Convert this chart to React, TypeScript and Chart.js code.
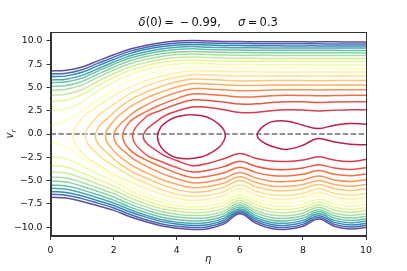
import React, { useEffect, useRef } from "react";
import { Chart, registerables } from "chart.js";

Chart.register(...registerables);

// ---------- data ----------
const ETA = [0, 0.5, 1, 1.5, 2, 2.5, 3, 3.5, 4, 4.5, 5, 5.5, 6, 6.5, 7, 7.5, 8, 8.5, 9, 9.5, 10];
const X_TICKS = [0, 2, 4, 6, 8, 10];
const Y_TICKS = [-10, -7.5, -5, -2.5, 0, 2.5, 5, 7.5, 10];
const N_LEVELS = 20;

const _ = null;
// upper branch of every contour level (level 0 = innermost, 19 = outermost)
const TOP: (number | null)[][] = [
  [_, _, _, _, _, _, _, _, _, _, _, _, _, _, _, _, _, _, _, _, _],
  [_, _, _, _, _, _, _, 1.7, 2.45, 2.91, 2.85, 2.6, 2.3, 2.32, 2.5, 2.6, 2.58, 2.48, 2.55, 2.6, 2.6],
  [_, _, _, _, _, _, 1.75, 2.55, 3.2, 3.64, 3.6, 3.42, 3.22, 3.24, 3.38, 3.46, 3.45, 3.39, 3.44, 3.47, 3.47],
  [_, _, _, _, _, 1.25, 2.35, 3.15, 3.8, 4.29, 4.25, 4.12, 3.97, 3.99, 4.1, 4.15, 4.14, 4.1, 4.13, 4.15, 4.15],
  [_, _, _, _, _, 1.95, 3.05, 3.85, 4.45, 4.87, 4.84, 4.74, 4.64, 4.66, 4.73, 4.76, 4.76, 4.73, 4.75, 4.76, 4.76],
  [_, _, _, _, 1.4, 2.85, 3.8, 4.5, 5.05, 5.41, 5.37, 5.29, 5.21, 5.22, 5.26, 5.27, 5.27, 5.26, 5.27, 5.27, 5.27],
  [_, _, _, _, 2.3, 3.6, 4.45, 5.1, 5.6, 5.9, 5.85, 5.78, 5.7, 5.71, 5.73, 5.73, 5.73, 5.72, 5.73, 5.73, 5.73],
  [_, _, _, 1.9, 3.15, 4.3, 5.1, 5.7, 6.1, 6.36, 6.33, 6.28, 6.23, 6.22, 6.23, 6.23, 6.23, 6.23, 6.23, 6.23, 6.23],
  [_, _, 1.7, 3.0, 4.1, 5.0, 5.7, 6.2, 6.58, 6.79, 6.76, 6.72, 6.68, 6.67, 6.66, 6.66, 6.66, 6.66, 6.66, 6.66, 6.66],
  [0.9, 1.45, 2.45, 3.7, 4.75, 5.7, 6.35, 6.8, 7.08, 7.2, 7.17, 7.14, 7.12, 7.1, 7.09, 7.08, 7.08, 7.07, 7.07, 7.06, 7.06],
  [2.5, 2.7, 3.45, 4.6, 5.58, 6.35, 6.9, 7.3, 7.52, 7.6, 7.54, 7.49, 7.46, 7.45, 7.44, 7.43, 7.43, 7.43, 7.42, 7.42, 7.42],
  [3.5, 3.64, 4.22, 5.19, 6.07, 6.83, 7.32, 7.68, 7.89, 7.95, 7.89, 7.84, 7.82, 7.81, 7.8, 7.8, 7.79, 7.79, 7.78, 7.78, 7.77],
  [4.15, 4.27, 4.77, 5.65, 6.47, 7.18, 7.66, 7.99, 8.2, 8.26, 8.2, 8.15, 8.13, 8.12, 8.11, 8.11, 8.1, 8.1, 8.1, 8.1, 8.1],
  [4.7, 4.81, 5.27, 6.08, 6.86, 7.54, 7.99, 8.32, 8.53, 8.58, 8.53, 8.48, 8.46, 8.45, 8.44, 8.43, 8.43, 8.43, 8.42, 8.42, 8.42],
  [5.1, 5.2, 5.64, 6.42, 7.17, 7.84, 8.29, 8.61, 8.81, 8.87, 8.81, 8.77, 8.75, 8.73, 8.72, 8.72, 8.71, 8.71, 8.71, 8.71, 8.7],
  [5.5, 5.6, 6.0, 6.75, 7.48, 8.13, 8.57, 8.89, 9.08, 9.14, 9.08, 9.04, 9.01, 9.0, 8.99, 8.98, 8.98, 8.98, 8.98, 8.97, 8.97],
  [5.8, 5.89, 6.29, 7.01, 7.73, 8.38, 8.81, 9.13, 9.32, 9.38, 9.32, 9.28, 9.26, 9.25, 9.24, 9.23, 9.23, 9.23, 9.22, 9.22, 9.22],
  [6.16, 6.24, 6.62, 7.31, 8.0, 8.63, 9.06, 9.36, 9.55, 9.6, 9.55, 9.51, 9.49, 9.48, 9.47, 9.46, 9.46, 9.46, 9.45, 9.45, 9.45],
  [6.45, 6.53, 6.9, 7.58, 8.25, 8.87, 9.28, 9.58, 9.77, 9.82, 9.77, 9.73, 9.71, 9.7, 9.69, 9.68, 9.68, 9.68, 9.67, 9.67, 9.67],
  [6.77, 6.85, 7.2, 7.85, 8.5, 9.1, 9.5, 9.8, 9.98, 10.03, 9.98, 9.94, 9.92, 9.91, 9.9, 9.9, 9.89, 9.89, 9.89, 9.88, 9.88],
];

// lower branch of every contour level
const BOT: (number | null)[][] = [
  [_, _, _, _, _, _, _, _, _, _, _, _, _, _, _, _, _, _, _, _, _],
  [_, _, _, _, _, _, _, -2.1, -2.85, -3.4, -3.13, -2.65, -2.1, -2.61, -2.91, -2.95, -2.8, -2.45, -2.8, -2.94, -2.75],
  [_, _, _, _, _, _, -2.15, -2.95, -3.6, -4.08, -3.9, -3.5, -2.92, -3.46, -3.78, -3.82, -3.66, -3.29, -3.66, -3.8, -3.62],
  [_, _, _, _, _, -1.65, -2.75, -3.5, -4.2, -4.68, -4.54, -4.17, -3.56, -4.12, -4.45, -4.5, -4.33, -3.93, -4.33, -4.48, -4.3],
  [_, _, _, _, _, -2.35, -3.4, -4.2, -4.8, -5.24, -5.13, -4.76, -4.12, -4.71, -5.06, -5.11, -4.93, -4.51, -4.93, -5.09, -4.91],
  [_, _, _, _, -1.8, -3.2, -4.1, -4.85, -5.4, -5.76, -5.64, -5.26, -4.59, -5.21, -5.57, -5.62, -5.43, -4.99, -5.43, -5.6, -5.42],
  [_, _, _, _, -2.65, -3.85, -4.7, -5.4, -5.95, -6.24, -6.11, -5.7, -5.0, -5.65, -6.03, -6.08, -5.88, -5.41, -5.88, -6.06, -5.88],
  [_, _, _, -2.2, -3.4, -4.45, -5.25, -5.95, -6.45, -6.7, -6.58, -6.19, -5.46, -6.13, -6.52, -6.58, -6.37, -5.88, -6.37, -6.56, -6.38],
  [_, _, -2.0, -3.3, -4.3, -5.1, -5.8, -6.45, -6.9, -7.13, -7.01, -6.6, -5.84, -6.54, -6.95, -7.01, -6.79, -6.28, -6.79, -6.99, -6.81],
  [-0.9, -1.36, -2.59, -3.63, -4.56, -5.59, -6.39, -7.0, -7.36, -7.53, -7.41, -6.99, -6.2, -6.93, -7.35, -7.41, -7.18, -6.65, -7.18, -7.39, -7.21],
  [-2.45, -2.65, -3.44, -4.28, -5.07, -6.02, -6.75, -7.33, -7.67, -7.83, -7.74, -7.33, -6.51, -7.27, -7.71, -7.77, -7.53, -6.97, -7.53, -7.75, -7.57],
  [-3.4, -3.55, -4.17, -4.88, -5.58, -6.44, -7.13, -7.67, -7.99, -8.14, -8.06, -7.66, -6.82, -7.6, -8.06, -8.12, -7.87, -7.29, -7.87, -8.1, -7.92],
  [-4.08, -4.2, -4.73, -5.37, -6.01, -6.82, -7.47, -7.99, -8.3, -8.44, -8.38, -7.98, -7.1, -7.91, -8.38, -8.45, -8.19, -7.59, -8.19, -8.42, -8.25],
  [-4.62, -4.73, -5.21, -5.8, -6.4, -7.18, -7.8, -8.31, -8.61, -8.75, -8.69, -8.28, -7.38, -8.21, -8.7, -8.77, -8.5, -7.87, -8.5, -8.74, -8.57],
  [-5.05, -5.15, -5.61, -6.17, -6.76, -7.5, -8.12, -8.62, -8.92, -9.05, -8.98, -8.55, -7.61, -8.47, -8.98, -9.05, -8.77, -8.12, -8.77, -9.02, -8.85],
  [-5.48, -5.57, -6.0, -6.53, -7.1, -7.82, -8.41, -8.9, -9.19, -9.33, -9.26, -8.8, -7.84, -8.73, -9.25, -9.32, -9.03, -8.36, -9.03, -9.29, -9.12],
  [-5.82, -5.92, -6.33, -6.85, -7.4, -8.1, -8.69, -9.18, -9.46, -9.6, -9.51, -9.03, -8.04, -8.96, -9.49, -9.57, -9.27, -8.57, -9.27, -9.54, -9.37],
  [-6.18, -6.27, -6.66, -7.16, -7.67, -8.34, -8.9, -9.38, -9.67, -9.81, -9.73, -9.25, -8.23, -9.17, -9.72, -9.8, -9.49, -8.77, -9.49, -9.77, -9.6],
  [-6.48, -6.57, -6.94, -7.42, -7.94, -8.61, -9.17, -9.63, -9.91, -10.04, -9.95, -9.45, -8.4, -9.37, -9.94, -10.02, -9.7, -8.96, -9.7, -9.99, -9.82],
  [-6.8, -6.88, -7.24, -7.7, -8.2, -8.85, -9.4, -9.85, -10.12, -10.25, -10.16, -9.65, -8.57, -9.57, -10.15, -10.23, -9.9, -9.13, -9.9, -10.2, -10.03],
];

// turning point ("nose") of the C-shaped levels on the v_r ≈ 0 line
const NOSE_ETA: (number | null)[] = [_, 2.94, 2.6, 2.29, 2.0, 1.74, 1.42, 1.1, 0.72, _, _, _, _, _, _, _, _, _, _, _];
const NOSE_V: (number | null)[] = [_, -0.28, -0.25, -0.25, -0.25, -0.22, -0.2, -0.2, -0.2, _, _, _, _, _, _, _, _, _, _, _];

// innermost level: closed loop and the open lobe on the right
const LOOP_ETA = [4.4, 4.8, 5.1, 5.35, 5.5, 5.54, 5.5, 5.35, 5.1, 4.8, 4.4, 4.0, 3.75, 3.5, 3.39, 3.5, 3.75, 4.0, 4.4];
const LOOP_V = [2.08, 1.95, 1.6, 1.0, 0.4, -0.1, -0.7, -1.4, -2.0, -2.45, -2.65, -2.55, -2.2, -1.4, -0.3, 0.75, 1.45, 1.85, 2.08];
const LOBE_ETA = [10, 9.5, 9.0, 8.5, 8.0, 7.5, 7.0, 6.75, 6.6, 6.55, 6.62, 6.85, 7.2, 7.5, 8.0, 8.45, 9.0, 9.5, 10];
const LOBE_V = [1.05, 1.12, 0.95, 0.58, 0.95, 1.38, 1.3, 0.85, 0.3, -0.1, -0.6, -1.1, -1.5, -1.65, -1.2, -0.5, -0.85, -1.1, -1.15];

const ZERO_ETA = [0, 10];
const ZERO_V = [0, 0];

// ---------- style ----------
const SPECTRAL = [
  [158, 1, 66], [213, 62, 79], [244, 109, 67], [253, 174, 97], [254, 224, 139], [255, 255, 191],
  [230, 245, 152], [171, 221, 164], [102, 194, 165], [50, 136, 189], [94, 79, 162],
];
function spectral(t: number): string {
  const p = Math.max(0, Math.min(1, t)) * (SPECTRAL.length - 1);
  const i = Math.min(SPECTRAL.length - 2, Math.floor(p));
  const f = p - i;
  const a = SPECTRAL[i], b = SPECTRAL[i + 1];
  const c = a.map((v, j) => Math.round(v + (b[j] - v) * f));
  return `rgb(${c[0]},${c[1]},${c[2]})`;
}
const levelColor = (k: number) => spectral((k + 1) / N_LEVELS);

const FONT = "'DejaVu Sans', Verdana, sans-serif";

function buildDatasets() {
  const ds: any[] = [];
  const line = (pts: { x: number; y: number }[], color: string) => ({
    data: pts,
    showLine: true,
    borderColor: color,
    backgroundColor: color,
    borderWidth: 1.5,
    pointRadius: 0,
    tension: 0.4,
    fill: false,
  });
  for (let k = N_LEVELS - 1; k >= 1; k--) {
    const color = levelColor(k);
    const top = TOP[k], bot = BOT[k];
    if (NOSE_ETA[k] == null) {
      ds.push(line(ETA.map((e, i) => ({ x: e, y: top[i] as number })), color));
      ds.push(line(ETA.map((e, i) => ({ x: e, y: bot[i] as number })), color));
    } else {
      const pts: { x: number; y: number }[] = [];
      for (let i = ETA.length - 1; i >= 0; i--) if (top[i] != null) pts.push({ x: ETA[i], y: top[i] as number });
      pts.push({ x: NOSE_ETA[k] as number, y: NOSE_V[k] as number });
      for (let i = 0; i < ETA.length; i++) if (bot[i] != null) pts.push({ x: ETA[i], y: bot[i] as number });
      ds.push(line(pts, color));
    }
  }
  const c0 = levelColor(0);
  ds.push(line(LOOP_ETA.map((e, i) => ({ x: e, y: LOOP_V[i] })), c0));
  ds.push(line(LOBE_ETA.map((e, i) => ({ x: e, y: LOBE_V[i] })), c0));
  ds.push({
    data: ZERO_ETA.map((e, i) => ({ x: e, y: ZERO_V[i] })),
    showLine: true,
    borderColor: "rgba(85,85,85,0.85)",
    borderWidth: 1.5,
    borderDash: [5.5, 2.4],
    pointRadius: 0,
    tension: 0,
  });
  return ds;
}

const decorPlugin = {
  id: "decor",
  afterDatasetsDraw(chart: any) {
    const { ctx, chartArea: a } = chart;
    ctx.save();
    ctx.strokeStyle = "#333";
    ctx.lineWidth = 1;
    ctx.strokeRect(Math.round(a.left) + 0.5, Math.round(a.top) + 0.5, Math.round(a.right - a.left) - 1, Math.round(a.bottom - a.top) - 1);
    ctx.restore();
  },
  afterDraw(chart: any) {
    const { ctx, chartArea: a } = chart;
    ctx.save();
    ctx.fillStyle = "#111";
    ctx.textBaseline = "alphabetic";
    // title
    const runs: [string, boolean][] = [
      ["δ", true], ["(0)\u2009=\u2002−\u20090.99,", false], ["\u2003\u2002", false], ["σ", true], ["\u2009=\u20090.3", false],
    ];
    const size = 11.5;
    let total = 0;
    for (const [t, it] of runs) {
      ctx.font = `${it ? "italic " : ""}${size}px ${FONT}`;
      total += ctx.measureText(t).width;
    }
    let x = (a.left + a.right) / 2 - total / 2;
    for (const [t, it] of runs) {
      ctx.font = `${it ? "italic " : ""}${size}px ${FONT}`;
      ctx.fillText(t, x, 26);
      x += ctx.measureText(t).width;
    }
    // x label
    ctx.font = `italic 10px ${FONT}`;
    ctx.textAlign = "center";
    ctx.fillText("η", (a.left + a.right) / 2, 262);
    // y label v_r
    ctx.translate(13, (a.top + a.bottom) / 2);
    ctx.rotate(-Math.PI / 2);
    ctx.textAlign = "left";
    ctx.font = `italic 10px ${FONT}`;
    const wv = ctx.measureText("v").width;
    ctx.font = `italic 7px ${FONT}`;
    const wr = ctx.measureText("r").width;
    const sx = -(wv + wr) / 2;
    ctx.font = `italic 10px ${FONT}`;
    ctx.fillText("v", sx, 0);
    ctx.font = `italic 7px ${FONT}`;
    ctx.fillText("r", sx + wv, 2.5);
    ctx.restore();
  },
};

export default function App() {
  const ref = useRef<HTMLCanvasElement | null>(null);
  useEffect(() => {
    if (!ref.current) return;
    const chart = new Chart(ref.current, {
      type: "scatter",
      data: { datasets: buildDatasets() },
      options: {
        animation: false,
        responsive: false,
        devicePixelRatio: 1,
        layout: { padding: { left: 0, right: 41, top: 32, bottom: 0 } },
        plugins: { legend: { display: false }, tooltip: { enabled: false }, title: { display: false } },
        scales: {
          x: {
            type: "linear",
            min: 0,
            max: 10,
            afterBuildTicks: (s: any) => { s.ticks = X_TICKS.map((v) => ({ value: v })); },
            afterFit: (s: any) => { s.height = 35; },
            grid: { drawOnChartArea: false, drawTicks: true, tickLength: 4, color: "#333" },
            border: { display: true, color: "#333" },
            ticks: { font: { family: FONT, size: 9.3 }, color: "#111", padding: 5, maxRotation: 0, callback: (v: any) => String(v) },
          },
          y: {
            type: "linear",
            min: -10.95,
            max: 10.95,
            afterBuildTicks: (s: any) => { s.ticks = Y_TICKS.map((v) => ({ value: v })); },
            afterFit: (s: any) => { s.width = 50.5; },
            grid: { drawOnChartArea: false, drawTicks: true, tickLength: 4, color: "#333" },
            border: { display: true, color: "#333" },
            ticks: { font: { family: FONT, size: 9.3 }, color: "#111", padding: 4, callback: (v: any) => Number(v).toFixed(1).replace("-", "−") },
          },
        },
      } as any,
      plugins: [decorPlugin],
    });
    return () => chart.destroy();
  }, []);
  return (
    <div style={{ position: "absolute", left: 0, top: 0, width: 407, height: 271, background: "#fff" }}>
      <canvas ref={ref} width={407} height={271} style={{ display: "block", width: 407, height: 271 }} />
    </div>
  );
}
